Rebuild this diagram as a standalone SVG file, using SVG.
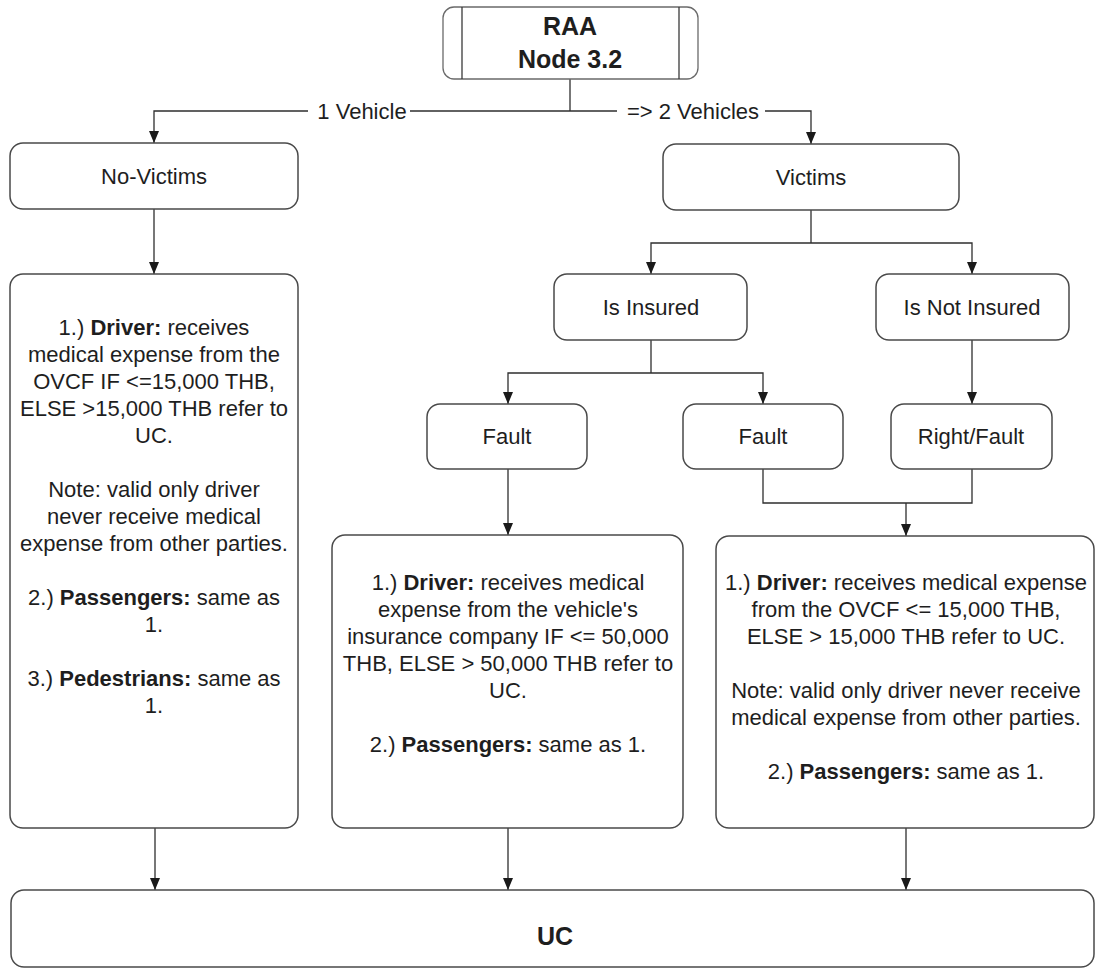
<svg xmlns="http://www.w3.org/2000/svg" width="1098" height="971" viewBox="0 0 1098 971">
  <style>
    .box { fill: #ffffff; stroke: #4a4a4a; stroke-width: 1.5; }
    .raa { fill: #ffffff; stroke: #6a6a6a; stroke-width: 1.3; }
    .inner { stroke: #3a3a3a; stroke-width: 1.3; }
    .wire { fill: none; stroke: #2e2e2e; stroke-width: 1.3; }
    .arrow { fill: none; stroke: #2e2e2e; stroke-width: 1.3; marker-end: url(#head); }
    text { font-family: "Liberation Sans", Arial, sans-serif; font-size: 22px; fill: #1e1e1e; text-anchor: middle; }
    .title { font-weight: bold; font-size: 25px; }
    b, .b { font-weight: bold; }
  </style>
  <defs>
    <marker id="head" viewBox="0 0 12 10" markerWidth="12" markerHeight="10" refX="12" refY="5" orient="auto" markerUnits="userSpaceOnUse">
      <path d="M0,0 L12,5 L0,10 Z" fill="#1a1a1a"/>
    </marker>
  </defs>

  <rect width="1098" height="971" fill="#ffffff"/>

  <!-- connectors -->
  <g id="connectors">
    <!-- RAA split -->
    <line class="wire" x1="570" y1="79" x2="570" y2="111"/>
    <path class="arrow" d="M308,111 H154 V143"/>
    <line class="wire" x1="410" y1="111" x2="617" y2="111"/>
    <path class="arrow" d="M765,111 H811 V144"/>
    <text x="362" y="119">1 Vehicle</text>
    <text x="693" y="119">=&gt; 2 Vehicles</text>

    <!-- No-Victims to left detail -->
    <line class="arrow" x1="154" y1="209" x2="154" y2="274"/>

    <!-- Victims split -->
    <line class="wire" x1="811" y1="210" x2="811" y2="243"/>
    <path class="arrow" d="M811,243 H651 V274"/>
    <path class="arrow" d="M811,243 H972 V274"/>

    <!-- Is Insured split -->
    <line class="wire" x1="651" y1="340" x2="651" y2="373"/>
    <path class="arrow" d="M651,373 H508 V404"/>
    <path class="arrow" d="M651,373 H763 V404"/>

    <!-- Is Not Insured -->
    <line class="arrow" x1="972" y1="340" x2="972" y2="404"/>

    <!-- Fault to middle detail -->
    <line class="arrow" x1="508" y1="469" x2="508" y2="535"/>

    <!-- Fault + Right/Fault merge -->
    <path class="wire" d="M763,469 V503 H972 V469"/>
    <line class="arrow" x1="906" y1="503" x2="906" y2="536"/>

    <!-- details to UC -->
    <line class="arrow" x1="155" y1="828" x2="155" y2="890"/>
    <line class="arrow" x1="508" y1="828" x2="508" y2="890"/>
    <line class="arrow" x1="906" y1="828" x2="906" y2="890"/>
  </g>

  <!-- RAA predefined process -->
  <g id="node-raa">
    <rect class="raa" x="443" y="7" width="255" height="72" rx="11"/>
    <line class="inner" x1="462" y1="7" x2="462" y2="79"/>
    <line class="inner" x1="679" y1="7" x2="679" y2="79"/>
    <text class="title" x="570" y="35">RAA</text>
    <text class="title" x="570" y="68">Node 3.2</text>
  </g>

  <g id="node-no-victims">
    <rect class="box" x="10" y="143" width="288" height="66" rx="13"/>
    <text x="154" y="184">No-Victims</text>
  </g>

  <g id="node-victims">
    <rect class="box" x="663" y="144" width="296" height="66" rx="13"/>
    <text x="811" y="185">Victims</text>
  </g>

  <g id="node-is-insured">
    <rect class="box" x="554" y="274" width="193" height="66" rx="13"/>
    <text x="651" y="315">Is Insured</text>
  </g>

  <g id="node-is-not-insured">
    <rect class="box" x="876" y="274" width="193" height="66" rx="13"/>
    <text x="972" y="315">Is Not Insured</text>
  </g>

  <g id="node-fault-1">
    <rect class="box" x="427" y="404" width="160" height="65" rx="13"/>
    <text x="507" y="444">Fault</text>
  </g>

  <g id="node-fault-2">
    <rect class="box" x="683" y="404" width="160" height="65" rx="13"/>
    <text x="763" y="444">Fault</text>
  </g>

  <g id="node-right-fault">
    <rect class="box" x="891" y="404" width="161" height="65" rx="13"/>
    <text x="971" y="444">Right/Fault</text>
  </g>

  <g id="node-detail-no-victims">
    <rect class="box" x="10" y="274" width="288" height="554" rx="13"/>
    <text x="154" y="335">1.) <tspan class="b">Driver:</tspan> receives</text>
    <text x="154" y="362">medical expense from the</text>
    <text x="154" y="389">OVCF IF &lt;=15,000 THB,</text>
    <text x="154" y="416">ELSE &gt;15,000 THB refer to</text>
    <text x="154" y="443">UC.</text>
    <text x="154" y="497">Note: valid only driver</text>
    <text x="154" y="524">never receive medical</text>
    <text x="154" y="551">expense from other parties.</text>
    <text x="154" y="605">2.) <tspan class="b">Passengers:</tspan> same as</text>
    <text x="154" y="632">1.</text>
    <text x="154" y="686">3.) <tspan class="b">Pedestrians:</tspan> same as</text>
    <text x="154" y="713">1.</text>
  </g>

  <g id="node-detail-insured-fault">
    <rect class="box" x="332" y="535" width="351" height="293" rx="13"/>
    <text x="508" y="590">1.) <tspan class="b">Driver:</tspan> receives medical</text>
    <text x="508" y="617">expense from the vehicle's</text>
    <text x="508" y="644">insurance company IF &lt;= 50,000</text>
    <text x="508" y="671">THB, ELSE &gt; 50,000 THB refer to</text>
    <text x="508" y="698">UC.</text>
    <text x="508" y="752">2.) <tspan class="b">Passengers:</tspan> same as 1.</text>
  </g>

  <g id="node-detail-ovcf">
    <rect class="box" x="716" y="536" width="378" height="292" rx="13"/>
    <text x="906" y="590">1.) <tspan class="b">Driver:</tspan> receives medical expense</text>
    <text x="906" y="617">from the OVCF &lt;= 15,000 THB,</text>
    <text x="906" y="644">ELSE &gt; 15,000 THB refer to UC.</text>
    <text x="906" y="698">Note: valid only driver never receive</text>
    <text x="906" y="725">medical expense from other parties.</text>
    <text x="906" y="779">2.) <tspan class="b">Passengers:</tspan> same as 1.</text>
  </g>

  <g id="node-uc">
    <rect class="box" x="11" y="890" width="1083" height="77" rx="13"/>
    <text class="title" x="555" y="945">UC</text>
  </g>
</svg>
